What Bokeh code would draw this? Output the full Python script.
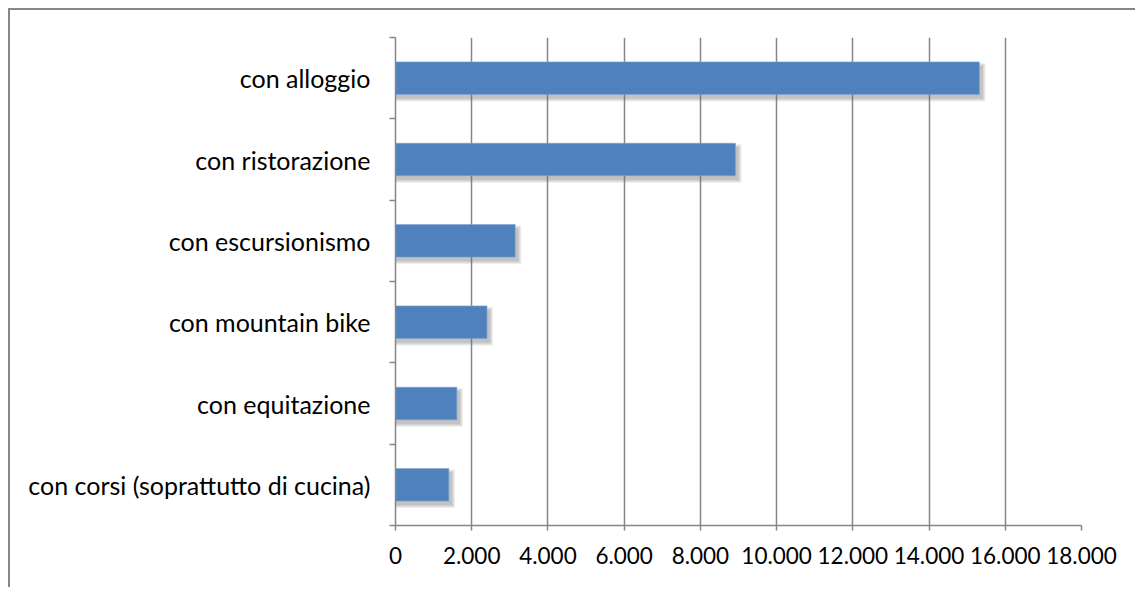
from bokeh.plotting import figure
from bokeh.models import Range1d, FixedTicker, ColumnDataSource
from bokeh.embed import file_html
from bokeh.resources import INLINE

# data (bottom to top)
categories = ["con corsi (soprattutto di cucina)", "con equitazione", "con mountain bike",
              "con escursionismo", "con ristorazione", "con alloggio"]
values = [1400, 1610, 2400, 3140, 8920, 15320]
x_ticks = [0, 2000, 4000, 6000, 8000, 10000, 12000, 14000, 16000, 18000]
x_tick_labels = ["0", "2.000", "4.000", "6.000", "8.000", "10.000", "12.000", "14.000", "16.000", "18.000"]

GREY = "#868686"
BAR = "#4F81BD"
FONT = "Lato"

W, H = 1127, 579
ML, MR, MT, MB = 385, 56, 27, 64
frame_w = W - ML - MR
frame_h = H - MT - MB

n = len(categories)
centers = [i + 0.5 for i in range(n)]
bar_h = 0.4

p = figure(width=W, height=H, output_backend="svg", toolbar_location=None,
           x_range=Range1d(0, 18000), y_range=Range1d(0, n),
           min_border_left=ML, min_border_right=MR, min_border_top=MT, min_border_bottom=MB)
p.styles = {"border-top": "2px solid " + GREY, "border-left": "2px solid " + GREY,
            "margin-left": "8px", "margin-top": "8px"}
p.outline_line_color = None
p.background_fill_color = "white"
p.border_fill_color = "white"

px_x = 18000 / frame_w
px_y = n / frame_h

# soft drop shadow
for s in range(4):
    src = ColumnDataSource(dict(
        y=[c - 4 * px_y for c in centers],
        right=[v + (3 + s) * px_x for v in values],
    ))
    p.hbar(y="y", left=0, right="right", height=bar_h + 2 * s * px_y, source=src,
           fill_color="#6f6f6f", fill_alpha=0.12, line_color=None)

src = ColumnDataSource(dict(y=centers, right=values, cat=categories))
p.hbar(y="y", left=0, right="right", height=bar_h, source=src,
       fill_color=BAR, line_color="#7FA4D3", line_width=0.6)

# x axis
p.xaxis.ticker = FixedTicker(ticks=x_ticks)
p.xaxis.major_label_overrides = {t: l for t, l in zip(x_ticks, x_tick_labels)}
p.xaxis.axis_line_color = GREY
p.xaxis.axis_line_width = 1.5
p.xaxis.major_tick_line_color = GREY
p.xaxis.major_tick_line_width = 1.5
p.xaxis.major_tick_out = 5
p.xaxis.major_tick_in = 0
p.xaxis.minor_tick_line_color = None
p.xaxis.major_label_standoff = 16
p.xaxis.major_label_text_font = FONT
p.xaxis.major_label_text_font_size = "22.5px"
p.xaxis.major_label_text_color = "black"

# y axis: labels at centers, ticks at category boundaries
p.yaxis.ticker = FixedTicker(ticks=centers, minor_ticks=list(range(n + 1)))
p.yaxis.major_label_overrides = {c: l for c, l in zip(centers, categories)}
p.yaxis.axis_line_color = GREY
p.yaxis.axis_line_width = 1.5
p.yaxis.major_tick_line_color = None
p.yaxis.major_tick_out = 0
p.yaxis.major_tick_in = 0
p.yaxis.minor_tick_line_color = GREY
p.yaxis.minor_tick_line_width = 1.5
p.yaxis.minor_tick_out = 6
p.yaxis.minor_tick_in = 0
p.yaxis.major_label_standoff = 19
p.yaxis.major_label_text_font = FONT
p.yaxis.major_label_text_font_size = "25px"
p.yaxis.major_label_text_color = "black"

p.xgrid.grid_line_color = GREY
p.xgrid.grid_line_width = 1.5
p.ygrid.grid_line_color = None

open("out.html", "w").write(file_html(p, INLINE))
